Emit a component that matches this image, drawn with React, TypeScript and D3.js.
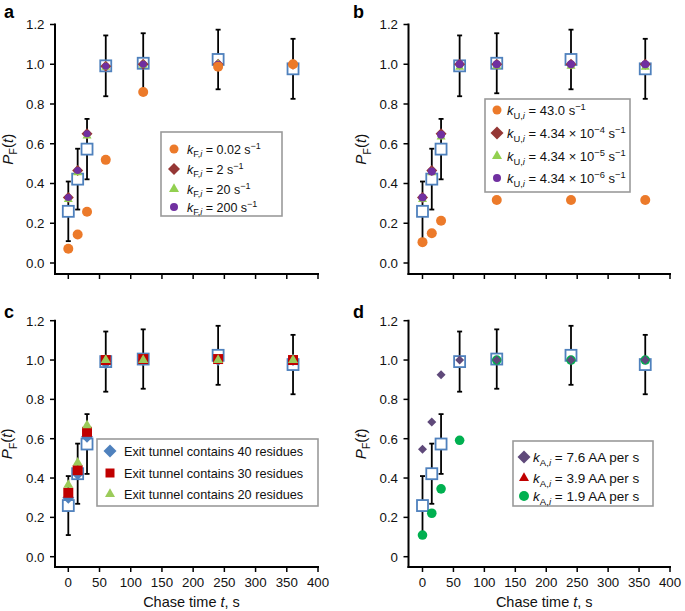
import React from 'react';
import * as d3 from 'd3';

// ---------------- data ----------------
const times = [0, 15, 30, 60, 120, 240, 360];
const expMean = [0.26, 0.422, 0.573, 0.992, 1.005, 1.024, 0.977];
const expErr = [0.15, 0.153, 0.152, 0.153, 0.151, 0.15, 0.151];

// panel a (k_F,i)
const aOrange = [0.072, 0.143, 0.258, 0.519, 0.86, 0.988, 1.0];
const aDiamond = [0.33, 0.465, 0.65, 0.99, 1.0, 1.0, 1.0];
const aTriangle = [0.32, 0.455, 0.64, 0.985, 0.995, 1.0, 1.0];
const aCircle = [0.33, 0.465, 0.65, 0.99, 1.0, 1.0, 1.0];

// panel b (k_U,i)
const bOrangeTimes = [0, 15, 30, 120, 240, 360];
const bOrange = [0.105, 0.15, 0.213, 0.317, 0.317, 0.317];
const bDiamond = [0.33, 0.465, 0.65, 1.0, 1.0, 1.0, 1.0];
const bTriangle = [0.32, 0.455, 0.635, 0.985, 0.99, 0.99, 0.985];
const bCircle = [0.33, 0.46, 0.645, 1.0, 1.0, 1.0, 1.0];

// panel c (exit tunnel)
const c40 = [0.3, 0.42, 0.61, 0.985, 1.0, 1.0, 1.0];
const c30 = [0.325, 0.44, 0.635, 1.0, 1.005, 1.005, 1.0];
const c20 = [0.365, 0.478, 0.668, 1.0, 1.0, 1.0, 1.0];

// panel d (k_A,i)
const dFast = [0.546, 0.685, 0.925, 1.0, 1.0, 1.0, 1.0];
const dMidTimes: number[] = [];
const dMid: number[] = [];
const dSlow = [0.11, 0.221, 0.345, 0.592, 1.0, 1.0, 1.0];

const yTicks = [0, 0.2, 0.4, 0.6, 0.8, 1.0, 1.2];
const yTickLabels = ['0.0', '0.2', '0.4', '0.6', '0.8', '1.0', '1.2'];
const yTickLabelsD = ['0', '0.2', '0.4', '0.6', '0.8', '1.0', '1.2'];
const xTicks = [0, 50, 100, 150, 200, 250, 300, 350, 400];

// ---------------- styles ----------------
const FONT = "'Liberation Sans', Arial, Helvetica, sans-serif";
const C_ORANGE = '#EC7A2A';
const C_DRED = '#953735';
const C_LGREEN = '#92D050';
const C_PURPLE = '#7030A0';
const C_BLUE = '#4F81BD';
const C_RED = '#C00000';
const C_CGREEN = '#9BCB5A';
const C_DPURPLE = '#5F497A';
const C_GREEN = '#00B050';

type Kind = 'circle' | 'diamond' | 'triangle' | 'square';
type Part = { t: string; i?: boolean; sub?: boolean; sup?: boolean };

function symPath(kind: Kind, s: number): string {
  switch (kind) {
    case 'circle':
      return d3.symbol().type(d3.symbolCircle).size(Math.PI * s * s)() as string;
    case 'diamond':
      return d3.symbol().type(d3.symbolSquare).size(2 * s * s)() as string;
    case 'triangle':
      return d3.symbol().type(d3.symbolTriangle).size((Math.sqrt(3) / 4) * s * s)() as string;
    default:
      return d3.symbol().type(d3.symbolSquare).size(s * s)() as string;
  }
}

function Marker({ kind, color, size, x, y }: { kind: Kind; color: string; size: number; x: number; y: number }) {
  const rot = kind === 'diamond' ? ' rotate(45)' : '';
  return <path d={symPath(kind, size)} transform={`translate(${x},${y})${rot}`} fill={color} />;
}

function RichText({ x, y, fs, parts, anchor, transform }: { x: number; y: number; fs: number; parts: Part[]; anchor?: string; transform?: string }) {
  let cur = 0;
  const small = fs * 0.72;
  return (
    <text x={x} y={y} fontSize={fs} fontFamily={FONT} textAnchor={anchor || 'start'} transform={transform} fill="#111">
      {parts.map((p, k) => {
        const target = p.sub ? fs * 0.3 : p.sup ? -fs * 0.38 : 0;
        const dy = target - cur;
        cur = target;
        return (
          <tspan key={k} dy={dy} fontSize={p.sub || p.sup ? small : fs} fontStyle={p.i ? 'italic' : 'normal'}>
            {p.t}
          </tspan>
        );
      })}
    </text>
  );
}

type Series = { kind: Kind; color: string; size: number; lsize: number; t: number[]; v: number[]; label: Part[]; z: number };
type LegendSpec = { x: number; y: number; w: number; h: number; rows: number[]; mx: number; tx: number; fs: number };

const cols = [
  { axisX: 55, x0: 68.3, x400: 318 },
  { axisX: 408.5, x0: 422.5, x400: 670 },
];
const rows = [
  { y12: 24.5, y0: 263, axisY: 274 },
  { y12: 320.7, y0: 556.7, axisY: 567 },
];

function Panel({ col, row, letter, series, legend, xLabels, yLabels }: {
  col: number; row: number; letter: string; series: Series[]; legend: LegendSpec; xLabels: boolean; yLabels: string[];
}) {
  const C = cols[col];
  const R = rows[row];
  const x = d3.scaleLinear().domain([0, 400]).range([C.x0, C.x400]);
  const y = d3.scaleLinear().domain([0, 1.2]).range([R.y0, R.y12]);
  const drawOrder = [...series].sort((p, q) => p.z - q.z);
  const midY = (R.y12 + R.axisY) / 2;
  const titleX = C.axisX - 42.5;
  return (
    <g>
      <text x={col === 0 ? 4 : 353} y={row === 0 ? 18 : 318} fontSize={18} fontWeight="bold" fontFamily={FONT}>
        {letter}
      </text>
      {/* axes */}
      <line x1={C.axisX} x2={C.axisX} y1={R.y12 - 1} y2={R.axisY + 1} stroke="#000" strokeWidth={2} />
      <line x1={C.axisX - 1} x2={x(400) + 1} y1={R.axisY} y2={R.axisY} stroke="#000" strokeWidth={2} />
      {yTicks.map((t, k) => (
        <g key={'yt' + k}>
          <line x1={C.axisX - 5} x2={C.axisX} y1={y(t)} y2={y(t)} stroke="#000" strokeWidth={1.5} />
          <text x={C.axisX - 10.5} y={y(t) + 4.8} fontSize={13.3} fontFamily={FONT} textAnchor="end" fill="#111">
            {yLabels[k]}
          </text>
        </g>
      ))}
      {xTicks.map((t, k) => (
        <g key={'xt' + k}>
          <line x1={x(t)} x2={x(t)} y1={R.axisY} y2={R.axisY + 5} stroke="#000" strokeWidth={1.5} />
          {xLabels && (
            <text x={x(t)} y={R.axisY + 20} fontSize={13.3} fontFamily={FONT} textAnchor="middle" fill="#111">
              {t}
            </text>
          )}
        </g>
      ))}
      {xLabels && (
        <RichText x={(C.axisX + x(400)) / 2 + 5} y={R.axisY + 40} fs={14.5} anchor="middle"
          parts={[{ t: 'Chase time ' }, { t: 't', i: true }, { t: ', s' }]} />
      )}
      <RichText x={titleX} y={midY} fs={15} anchor="middle"
        transform={`rotate(-90 ${titleX} ${midY})`}
        parts={[{ t: 'P', i: true }, { t: 'F', sub: true }, { t: '(' }, { t: 't', i: true }, { t: ')' }]} />
      {/* error bars */}
      {times.map((t, k) => {
        const top = y(expMean[k] + expErr[k]);
        const bot = y(expMean[k] - expErr[k]);
        return (
          <g key={'eb' + k} stroke="#000" strokeWidth={1.8}>
            <line x1={x(t)} x2={x(t)} y1={top} y2={bot} />
            <line x1={x(t) - 2.5} x2={x(t) + 2.5} y1={top} y2={top} />
            <line x1={x(t) - 2.5} x2={x(t) + 2.5} y1={bot} y2={bot} />
          </g>
        );
      })}
      {/* experimental open squares */}
      {times.map((t, k) => (
        <rect key={'sq' + k} x={x(t) - 5.5} y={y(expMean[k]) - 5.5} width={11} height={11}
          fill="#fff" stroke={C_BLUE} strokeWidth={1.8} />
      ))}
      {/* model series */}
      {drawOrder.map((s, si) => (
        <g key={'s' + si}>
          {s.v.map((v, k) => (
            <Marker key={k} kind={s.kind} color={s.color} size={s.size} x={x(s.t[k])} y={y(v)} />
          ))}
        </g>
      ))}
      {/* legend */}
      <rect x={legend.x} y={legend.y} width={legend.w} height={legend.h} fill="#fff" stroke="#9a9a9a" strokeWidth={1.6} />
      {series.map((s, k) => (
        <g key={'lg' + k}>
          <Marker kind={s.kind} color={s.color} size={s.lsize} x={legend.mx} y={legend.rows[k]} />
          <RichText x={legend.tx} y={legend.rows[k] + legend.fs * 0.36} fs={legend.fs} parts={s.label} />
        </g>
      ))}
    </g>
  );
}

const kLabel = (sub: string, rest: Part[]): Part[] => [
  { t: 'k', i: true },
  { t: sub + ',', sub: true },
  { t: 'i', sub: true, i: true },
  ...rest,
];

const seriesA: Series[] = [
  { kind: 'circle', color: C_ORANGE, size: 5, lsize: 4.5, t: times, v: aOrange, z: 4, label: kLabel('F', [{ t: ' = 0.02 s' }, { t: '−1', sup: true }]) },
  { kind: 'diamond', color: C_DRED, size: 5.5, lsize: 6, t: times, v: aDiamond, z: 1, label: kLabel('F', [{ t: ' = 2 s' }, { t: '−1', sup: true }]) },
  { kind: 'triangle', color: C_LGREEN, size: 9, lsize: 10, t: times, v: aTriangle, z: 2, label: kLabel('F', [{ t: ' = 20 s' }, { t: '−1', sup: true }]) },
  { kind: 'circle', color: C_PURPLE, size: 3.5, lsize: 4, t: times, v: aCircle, z: 3, label: kLabel('F', [{ t: ' = 200 s' }, { t: '−1', sup: true }]) },
];

const seriesB: Series[] = [
  { kind: 'circle', color: C_ORANGE, size: 5, lsize: 4.5, t: bOrangeTimes, v: bOrange, z: 4, label: kLabel('U', [{ t: ' = 43.0 s' }, { t: '−1', sup: true }]) },
  { kind: 'diamond', color: C_DRED, size: 5.5, lsize: 6.5, t: times, v: bDiamond, z: 1, label: kLabel('U', [{ t: ' = 4.34 × 10' }, { t: '−4', sup: true }, { t: ' s' }, { t: '−1', sup: true }]) },
  { kind: 'triangle', color: C_LGREEN, size: 9, lsize: 10, t: times, v: bTriangle, z: 2, label: kLabel('U', [{ t: ' = 4.34 × 10' }, { t: '−5', sup: true }, { t: ' s' }, { t: '−1', sup: true }]) },
  { kind: 'circle', color: C_PURPLE, size: 4, lsize: 4, t: times, v: bCircle, z: 3, label: kLabel('U', [{ t: ' = 4.34 × 10' }, { t: '−6', sup: true }, { t: ' s' }, { t: '−1', sup: true }]) },
];

const seriesC: Series[] = [
  { kind: 'diamond', color: C_BLUE, size: 6, lsize: 6.5, t: times, v: c40, z: 1, label: [{ t: 'Exit tunnel contains 40 residues' }] },
  { kind: 'square', color: C_RED, size: 10, lsize: 9, t: times, v: c30, z: 2, label: [{ t: 'Exit tunnel contains 30 residues' }] },
  { kind: 'triangle', color: C_CGREEN, size: 10, lsize: 10, t: times, v: c20, z: 3, label: [{ t: 'Exit tunnel contains 20 residues' }] },
];

const seriesD: Series[] = [
  { kind: 'diamond', color: C_DPURPLE, size: 4.5, lsize: 6.5, t: times, v: dFast, z: 3, label: kLabel('A', [{ t: ' = 7.6 AA per s' }]) },
  { kind: 'triangle', color: C_RED, size: 10, lsize: 10, t: dMidTimes, v: dMid, z: 1, label: kLabel('A', [{ t: ' = 3.9 AA per s' }]) },
  { kind: 'circle', color: C_GREEN, size: 4.8, lsize: 5, t: times, v: dSlow, z: 2, label: kLabel('A', [{ t: ' = 1.9 AA per s' }]) },
];

export default function App() {
  return (
    <svg width={685} height={611} viewBox="0 0 685 611"
      style={{ position: 'absolute', left: 0, top: 0, display: 'block', background: '#fff' }}>
      <rect x={0} y={0} width={685} height={611} fill="#fff" />
      <Panel col={0} row={0} letter="a" series={seriesA} xLabels={false} yLabels={yTickLabels}
        legend={{ x: 161, y: 132, w: 121, h: 84, rows: [149, 169, 189, 207], mx: 174, tx: 187, fs: 12.5 }} />
      <Panel col={1} row={0} letter="b" series={seriesB} xLabels={false} yLabels={yTickLabels}
        legend={{ x: 485, y: 99, w: 145, h: 93, rows: [110, 133, 156, 178], mx: 497, tx: 507, fs: 13 }} />
      <Panel col={0} row={1} letter="c" series={seriesC} xLabels={true} yLabels={yTickLabels}
        legend={{ x: 97, y: 439, w: 221, h: 67, rows: [451, 473, 494], mx: 110, tx: 124, fs: 12.7 }} />
      <Panel col={1} row={1} letter="d" series={seriesD} xLabels={true} yLabels={yTickLabelsD}
        legend={{ x: 513, y: 441, w: 140, h: 65, rows: [457, 478, 496], mx: 524, tx: 533, fs: 13.5 }} />
    </svg>
  );
}
